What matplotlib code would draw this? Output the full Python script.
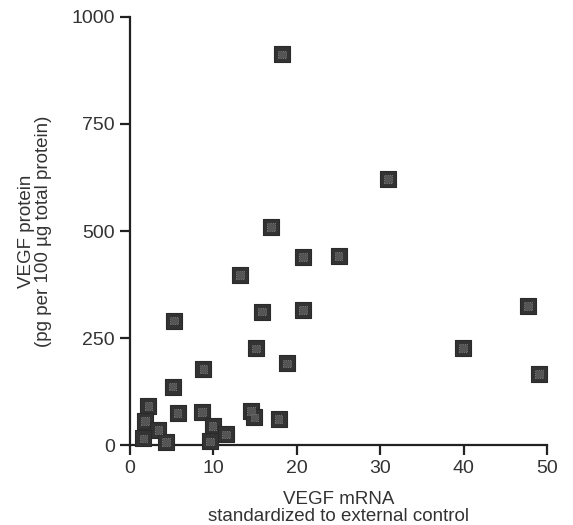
import matplotlib
matplotlib.use("Agg")
import matplotlib.pyplot as plt

mrna = [18.2, 30.9, 16.9, 20.7, 25.0, 13.2, 15.8, 20.7, 5.3, 47.7,
        15.1, 39.9, 18.8, 49.0, 8.8, 5.1, 2.2, 5.7, 8.6, 14.5,
        14.9, 17.8, 1.8, 3.4, 9.9, 11.5, 1.6, 4.3, 9.6]
protein = [912, 621, 510, 440, 442, 397, 312, 315, 291, 325,
           226, 227, 191, 166, 178, 137, 92, 75, 77, 80,
           65, 61, 57, 35, 45, 25, 16, 8, 9]

xticks = [0, 10, 20, 30, 40, 50]
yticks = [0, 250, 500, 750, 1000]

plt.rcParams['font.family'] = ['Liberation Sans', 'DejaVu Sans']
plt.rcParams['hatch.color'] = '#9a9a9a'
plt.rcParams['hatch.linewidth'] = 1.0

fig = plt.figure(figsize=(5.73, 5.25), dpi=100)
ax = fig.add_axes([0.227, 0.152, 0.728, 0.816])

ax.scatter(mrna, protein, marker='s', s=125, facecolor='#333333',
           edgecolor='#2a2a2a', linewidth=0.8, zorder=3, clip_on=False)
ax.scatter(mrna, protein, marker='s', s=30, facecolor='#555555',
           edgecolor='#8a8a8a', linewidth=0.6, linestyle=':', zorder=4, clip_on=False)

ax.set_xlim(0, 50)
ax.set_ylim(0, 1000)
ax.set_xticks(xticks)
ax.set_yticks(yticks)
for s in ['top', 'right']:
    ax.spines[s].set_visible(False)
for s in ['left', 'bottom']:
    ax.spines[s].set_linewidth(1.6)
    ax.spines[s].set_color('#222222')
ax.tick_params(direction='out', length=7, width=1.6, color='#222222',
               labelsize=14, labelcolor='#333333', pad=4)

ax.set_xlabel('VEGF mRNA\nstandardized to external control', fontsize=13.5,
              color='#333333', linespacing=0.95, labelpad=10)
ax.set_ylabel('VEGF protein\n(pg per 100 µg total protein)', fontsize=13.5,
              color='#333333', linespacing=0.95, labelpad=14)

fig.savefig('out.png', dpi=100)
